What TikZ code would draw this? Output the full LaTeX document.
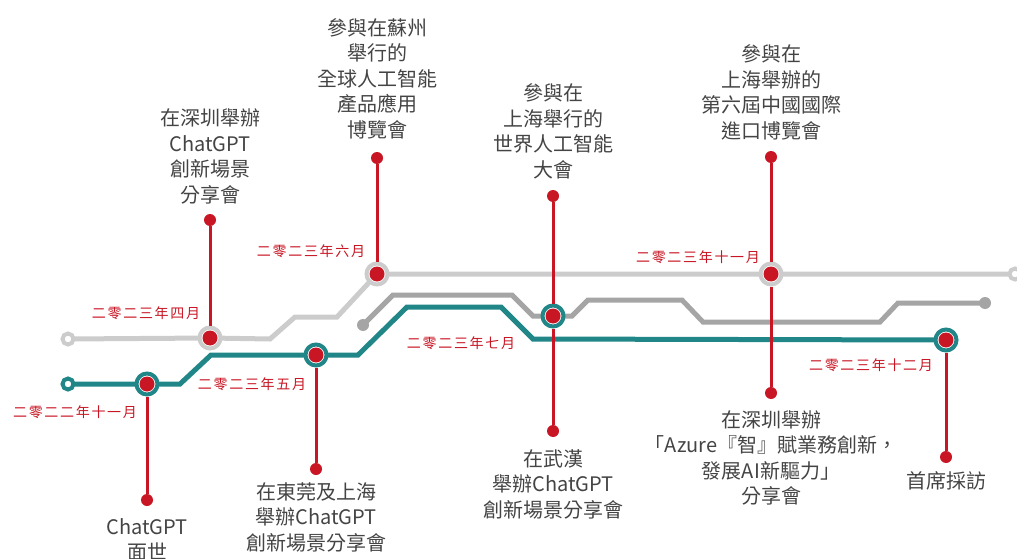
\documentclass[tikz,border=0pt]{standalone}
\usepackage{fontspec}
\newfontfamily\cjk{Noto Sans CJK TC}
\newfontfamily\cjkdate[LetterSpace=12]{Noto Sans CJK TC}
\definecolor{tealc}{RGB}{33,134,136}
\definecolor{lgrey}{RGB}{204,204,204}
\definecolor{dgrey}{RGB}{165,165,165}
\definecolor{myred}{RGB}{200,22,36}
\definecolor{txtgrey}{RGB}{68,68,68}
\begin{document}
\begin{tikzpicture}[x=1pt,y=-1pt,
  trk/.style={line width=5pt},
  stem/.style={draw=myred,line width=3pt},
  station/.style={circle,draw=#1,line width=4pt,fill=white,minimum size=21pt,inner sep=0pt},
  core/.style={circle,fill=myred,minimum size=15pt,inner sep=0pt},
  enddot/.style={circle,fill=myred,minimum size=12pt,inner sep=0pt},
  opencirc/.style={circle,draw=#1,line width=4pt,fill=white,minimum size=11pt,inner sep=0pt},
  gdot/.style={circle,fill=dgrey,minimum size=12pt,inner sep=0pt},
  lbl/.style={font=\cjk\fontsize{20}{25.5}\selectfont,text=txtgrey,align=center,inner sep=0pt},
  datelbl/.style={font=\cjkdate\fontsize{14}{16}\selectfont,text=myred,inner sep=0pt}
]
\useasboundingbox (0,0) rectangle (1017,559);
% station positions
\coordinate (c1) at (147,384);
\coordinate (c2) at (210,338);
\coordinate (c3) at (316,355);
\coordinate (c4) at (377,274);
\coordinate (c5) at (553,316);
\coordinate (c6) at (771,274);
\coordinate (c7) at (946,340);
\coordinate (lgS) at (68,339);
\coordinate (lgE) at (1015,274);
\coordinate (tS) at (68,384);
\coordinate (dgS) at (363,325);
\coordinate (dgE) at (985,303);
% tracks
\draw[trk,lgrey] (lgS) -- (c2) -- (270,339) -- (295,317) -- (337,317) -- (c4) -- (c6) -- (lgE);
\draw[trk,tealc] (tS) -- (c1) -- (180,384) -- (211,355) -- (c3) -- (358,355) -- (407,307) -- (501,307) -- (533,339) -- (c7);
\draw[trk,dgrey] (dgS) -- (393,295) -- (512,295) -- (533,316) -- (c5) -- (572,316) -- (588,300) -- (682,300) -- (703,322) -- (880,322) -- (898,303) -- (dgE);
% track ends
\node[opencirc=lgrey] (lgs) at (lgS) {};
\node[opencirc=lgrey] (lge) at (lgE) {};
\node[opencirc=tealc] (ts) at (tS) {};
\node[gdot] (dgs) at (dgS) {};
\node[gdot] (dge) at (dgE) {};
% stations
\node[station=tealc] (s1) at (c1) {};
\node[station=lgrey] (s2) at (c2) {};
\node[station=tealc] (s3) at (c3) {};
\node[station=lgrey] (s4) at (c4) {};
\node[station=tealc] (s5) at (c5) {};
\node[station=lgrey] (s6) at (c6) {};
\node[station=tealc] (s7) at (c7) {};
% stem end dots
\node[enddot] (e1) at (147,500) {};
\node[enddot] (e2) at (210,220) {};
\node[enddot] (e3) at (316,469) {};
\node[enddot] (e4) at (377,158) {};
\node[enddot] (e5a) at (553,196) {};
\node[enddot] (e5b) at (553,431) {};
\node[enddot] (e6a) at (771,157) {};
\node[enddot] (e6b) at (771,393) {};
\node[enddot] (e7) at (946,457) {};
% stems
\draw[stem] (s1) -- (e1);
\draw[stem] (s2) -- (e2);
\draw[stem] (s3) -- (e3);
\draw[stem] (s4) -- (e4);
\draw[stem] (s5) -- (e5a);
\draw[stem] (s5) -- (e5b);
\draw[stem] (s6) -- (e6a);
\draw[stem] (s6) -- (e6b);
\draw[stem] (s7) -- (e7);
% station cores
\foreach \s in {s1,s2,s3,s4,s5,s6,s7} \node[core] at (\s) {};
% dates
\node[datelbl] (d1) at (75,412) {二零二二年十一月};
\node[datelbl] (d2) at (146,313) {二零二三年四月};
\node[datelbl] (d3) at (252,384) {二零二三年五月};
\node[datelbl] (d4) at (311,251) {二零二三年六月};
\node[datelbl] (d5) at (461,343) {二零二三年七月};
\node[datelbl] (d6) at (698,257) {二零二三年十一月};
\node[datelbl] (d7) at (871,365) {二零二三年十二月};
% labels
\node[lbl,anchor=north] (l1) at (147,518) {ChatGPT\\面世};
\node[lbl,anchor=south] (l2) at (210,204) {在深圳舉辦\\ChatGPT\\創新場景\\分享會};
\node[lbl,anchor=north] (l3) at (316,482) {在東莞及上海\\舉辦ChatGPT\\創新場景分享會};
\node[lbl,anchor=south] (l4) at (377,139) {參與在蘇州\\舉行的\\全球人工智能\\產品應用\\博覽會};
\node[lbl,anchor=south] (l5a) at (553,179) {參與在\\上海舉行的\\世界人工智能\\大會};
\node[lbl,anchor=north] (l5b) at (553,449) {在武漢\\舉辦ChatGPT\\創新場景分享會};
\node[lbl,anchor=south] (l6a) at (771,140) {參與在\\上海舉辦的\\第六屆中國國際\\進口博覽會};
\node[lbl,anchor=north] (l6b) at (771,410) {在深圳舉辦\\「Azure『智』賦業務創新，\\發展AI新驅力」\\分享會};
\node[lbl,anchor=north] (l7) at (946,471) {首席採訪};
\end{tikzpicture}
\end{document}
